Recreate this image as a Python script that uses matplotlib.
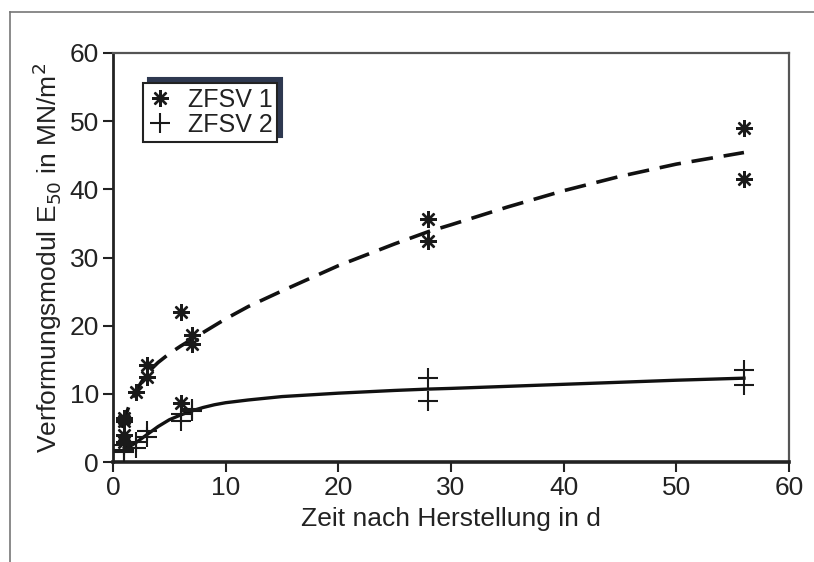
import matplotlib
matplotlib.use("Agg")
import matplotlib.pyplot as plt
from matplotlib.lines import Line2D

plt.rcParams['font.family'] = ['Liberation Sans', 'DejaVu Sans']

# Measured points
z1_x = [1, 1, 1, 1, 2, 3, 3, 6, 6, 7, 7, 28, 28, 56, 56]
z1_y = [6.5, 6.0, 4.0, 3.0, 10.3, 14.3, 12.5, 22.0, 8.6, 18.6, 17.3, 35.6, 32.4, 49.0, 41.5]
z2_x = [1, 1, 1, 2, 2, 3, 3, 6, 6, 7, 7, 28, 28, 56, 56]
z2_y = [2.5, 1.8, 1.4, 3.0, 2.0, 4.5, 3.6, 7.0, 6.0, 7.8, 7.5, 12.3, 9.0, 13.5, 11.3]

# Trend curves
fit1_x = [0.8, 1, 1.5, 2, 3, 4, 5, 6, 7, 8, 10, 12, 15, 20, 25, 28, 30, 35, 40, 45, 50, 56]
fit1_y = [5.0, 6.2, 8.6, 10.3, 13.0, 14.6, 15.9, 17.0, 18.0, 19.0, 21.0, 22.8, 25.1, 28.8, 32.0,
          33.8, 34.8, 37.4, 39.8, 41.9, 43.7, 45.4]
fit2_x = [1, 1.5, 2, 3, 4, 5, 6, 7, 8, 9, 10, 12, 15, 20, 25, 28, 30, 40, 50, 56]
fit2_y = [2.0, 2.3, 2.8, 4.0, 5.2, 6.2, 6.9, 7.5, 8.0, 8.4, 8.7, 9.1, 9.6, 10.1, 10.5, 10.7,
          10.8, 11.4, 12.0, 12.3]

labels = ["ZFSV 1", "ZFSV 2"]
ticks = [0, 10, 20, 30, 40, 50, 60]

fig = plt.figure(figsize=(8.14, 5.62), dpi=100)
ax = fig.add_axes([0.1388, 0.1779, 0.8305, 0.7278])

ax.plot(fit1_x, fit1_y, color='#111111', lw=2.6, dashes=(6, 3), zorder=2)
ax.plot(fit2_x, fit2_y, color='#111111', lw=2.4, zorder=2)
ax.plot(z1_x, z1_y, ls='none', marker=(8, 2, 0), ms=12, mew=1.7, color='#1a1a1a',
        label=labels[0], zorder=3)
ax.plot(z2_x, z2_y, ls='none', marker='+', ms=14, mew=1.5, color='#1a1a1a',
        label=labels[1], zorder=3)

ax.set_xlim(0, 60)
ax.set_ylim(0, 60)
ax.set_xticks(ticks)
ax.set_yticks(ticks)
ax.tick_params(direction='out', length=7, width=1.5, labelsize=19, colors='#222222', pad=3)
ax.spines['left'].set_linewidth(2.0)
ax.spines['bottom'].set_linewidth(2.6)
for s in ['top', 'right']:
    ax.spines[s].set_linewidth(1.6)
    ax.spines[s].set_color('#555555')
for s in ['left', 'bottom']:
    ax.spines[s].set_color('#222222')

ax.set_xlabel("Zeit nach Herstellung in d", fontsize=19, color='#222222', labelpad=5)
ax.set_ylabel("Verformungsmodul E$_{50}$ in MN/m$^2$", fontsize=19, color='#222222', labelpad=4)

leg = ax.legend(loc='upper left', bbox_to_anchor=(0.044, 0.927), fontsize=18,
                frameon=True, fancybox=False, edgecolor='#222222',
                shadow={'ox': 3.5, 'oy': 3.5, 'color': '#2e3850', 'alpha': 1},
                handlelength=1.0, handletextpad=0.6, borderpad=0.2, labelspacing=0.05,
                borderaxespad=0)
leg.get_frame().set_linewidth(1.5)
for t in leg.get_texts():
    t.set_color('#222222')

# outer page border
fig.add_artist(Line2D([10/814, 1], [1-12/562, 1-12/562], transform=fig.transFigure,
                      color='#777777', lw=1.2))
fig.add_artist(Line2D([10/814, 10/814], [0, 1-12/562], transform=fig.transFigure,
                      color='#777777', lw=1.2))

fig.savefig("out.png", dpi=100)
